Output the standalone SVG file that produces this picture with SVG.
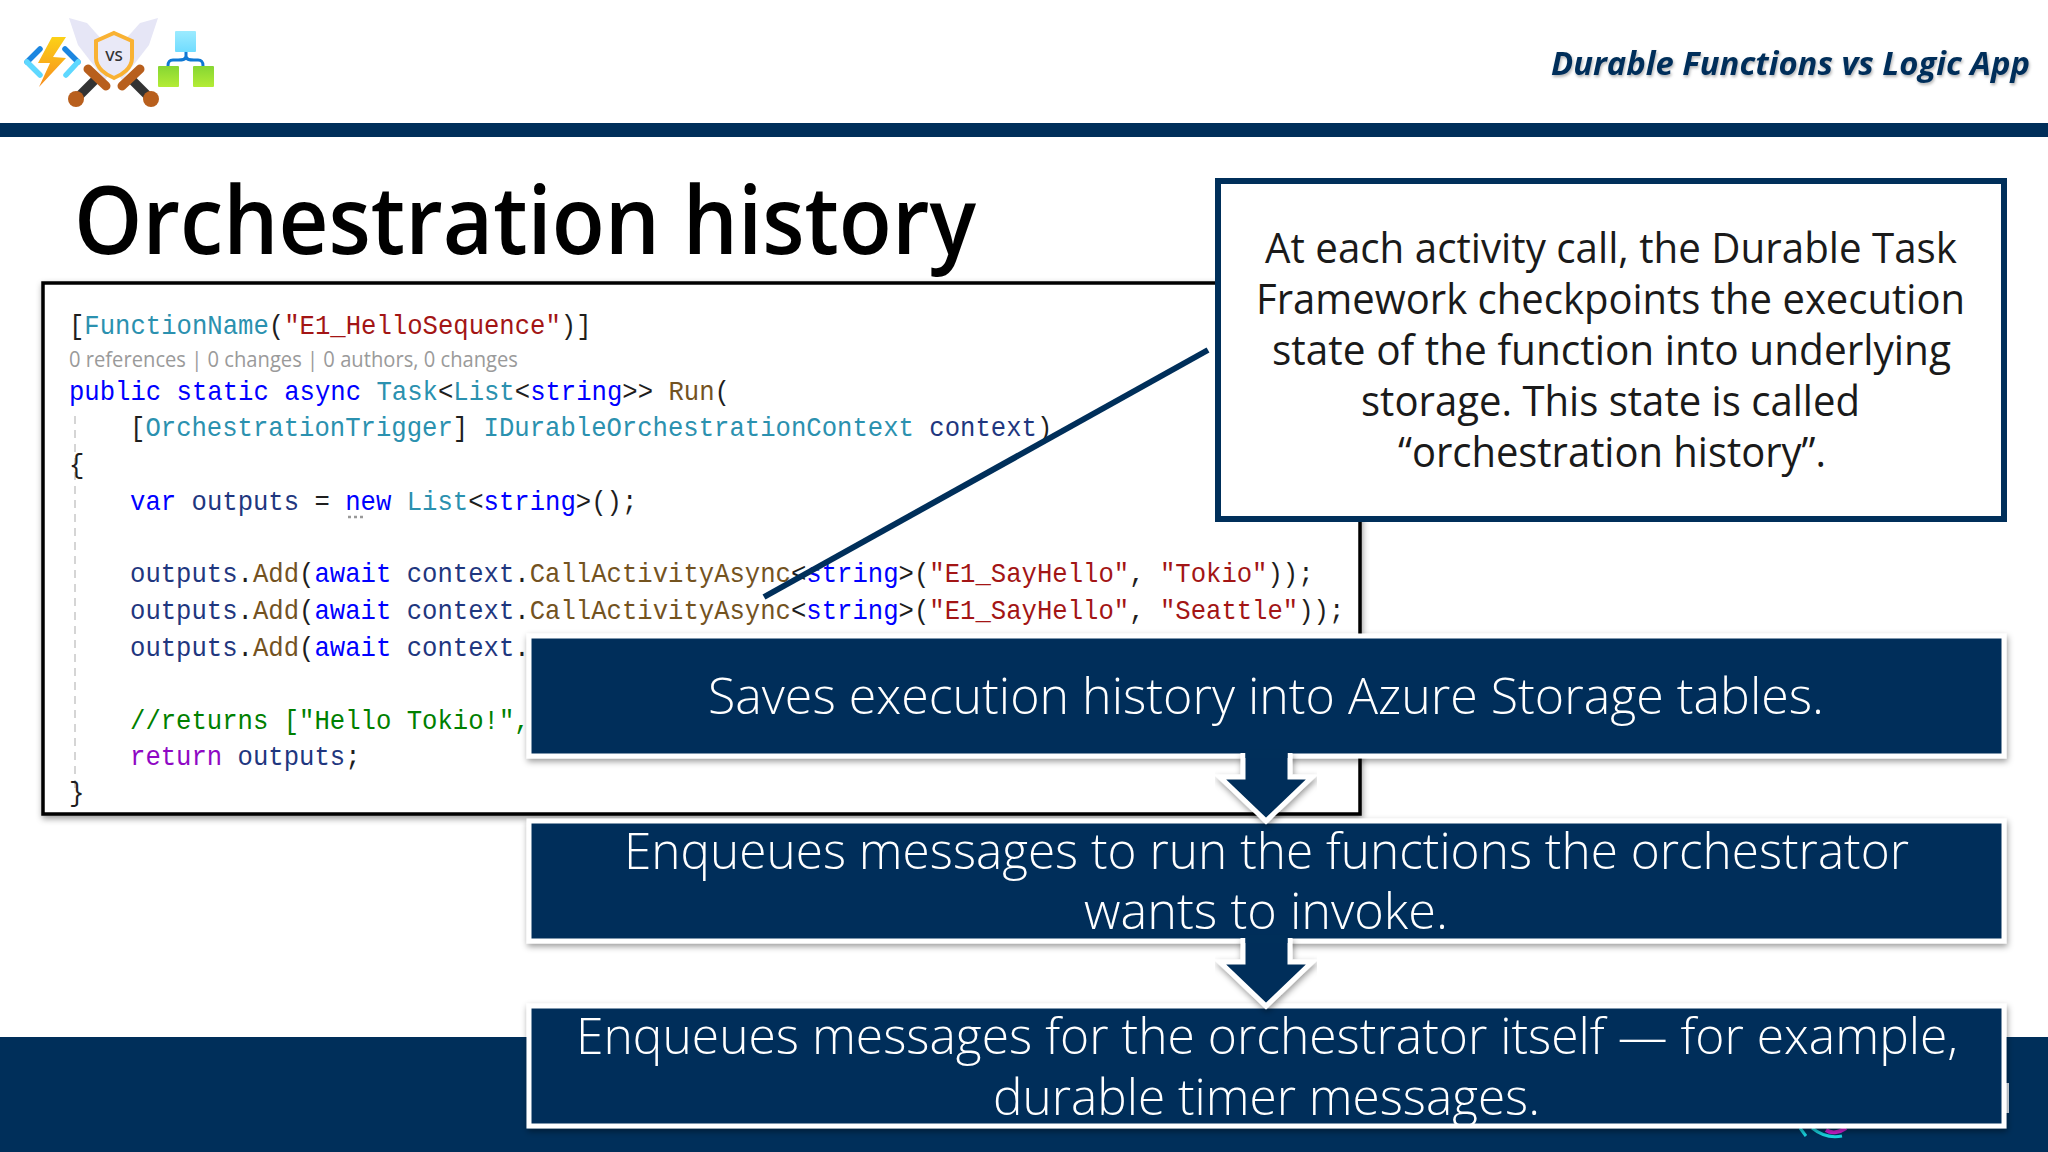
<svg xmlns="http://www.w3.org/2000/svg" width="2048" height="1152" viewBox="0 0 2048 1152">
<defs>
<style>
.c{font-family:"Liberation Mono",monospace;font-size:28px;fill:#1e1e1e}
.t{fill:#2b91af}.k{fill:#0000ff}.s{fill:#a31515}.m{fill:#74531f}.v{fill:#1f377f}.g{fill:#008000}.r{fill:#8f08c4}
.w{font-family:"Open Sans",sans-serif;font-size:50px;font-weight:300;fill:#fff;text-anchor:start}
.b{font-family:"Open Sans",sans-serif;font-size:42px;fill:#1a1a1a}
.box{fill:#002f5a;stroke:#fff;stroke-width:5;filter:url(#sh)}
.arr{fill:#002f5a;stroke:#fff;stroke-width:5;stroke-linejoin:miter}
</style>
<filter id="sh" x="-5%" y="-10%" width="110%" height="125%"><feDropShadow dx="1" dy="3" stdDeviation="3" flood-color="#000" flood-opacity=".4"/></filter>
<filter id="ts" x="-5%" y="-20%" width="110%" height="150%"><feDropShadow dx="1" dy="2" stdDeviation="1.5" flood-color="#000" flood-opacity=".3"/></filter>
<linearGradient id="bolt" x1="0" y1="0" x2="0" y2="1"><stop offset="0" stop-color="#fcd116"/><stop offset="1" stop-color="#f78d1e"/></linearGradient>
<linearGradient id="green" x1="0" y1="0" x2="0" y2="1"><stop offset="0" stop-color="#86d633"/><stop offset="1" stop-color="#b4ec36"/></linearGradient>
<linearGradient id="sky" x1="0" y1="0" x2="0" y2="1"><stop offset="0" stop-color="#9cebff"/><stop offset="1" stop-color="#70dcff"/></linearGradient>
</defs>
<rect width="2048" height="1152" fill="#fff"/>
<rect id="header-bar" x="0" y="123" width="2048" height="14" fill="#002f5a"/>
<rect id="footer-bar" x="0" y="1037" width="2048" height="115" fill="#002f5a"/>
<g id="logo-functions">
<path d="M40 49 27 62" fill="none" stroke="#1c86e0" stroke-width="5.500" stroke-linecap="round"/>
<path d="M27 62 40 75" fill="none" stroke="#5ed8ff" stroke-width="5.500" stroke-linecap="round"/>
<path d="M65 49 78 62" fill="none" stroke="#1c86e0" stroke-width="5.500" stroke-linecap="round"/>
<path d="M78 62 66 75" fill="none" stroke="#5ed8ff" stroke-width="5.500" stroke-linecap="round"/>
<path d="M66 37H52L38 63H50L39 87 66 58 53 57Z" fill="url(#bolt)"/>
</g>
<g id="logo-vs">
<path d="M69 18 87 23 120 60 105 80 78 45Z" fill="#e6e6f6"/>
<path d="M158 18 140 23 107 60 122 80 149 45Z" fill="#e6e6f6"/>
<path d="M114 33 132 41V58C132 68 122 75 114 78 106 75 96 68 96 58V41Z" fill="#e9e9f7" stroke="#f9b233" stroke-width="4"/>
<text x="114" y="61" font-family="'Open Sans',sans-serif" font-size="15" font-weight="600" text-anchor="middle" fill="#333">VS</text>
<path d="M96 79 79 96" stroke="#333" stroke-width="9"/>
<path d="M131 79 148 96" stroke="#333" stroke-width="9"/>
<path d="M88 69 106 86" stroke="#b85f1d" stroke-width="9" stroke-linecap="round"/>
<path d="M140 69 122 86" stroke="#b85f1d" stroke-width="9" stroke-linecap="round"/>
<circle cx="76" cy="99" r="8" fill="#b85f1d"/>
<circle cx="151" cy="99" r="8" fill="#b85f1d"/>
</g>
<g id="logo-logicapp">
<rect x="175" y="31" width="21" height="21" rx="1" fill="url(#sky)"/>
<path d="M186 52V56C186 60 182 60 178 60H173C169 60 168 62 168 66M186 56C186 60 190 60 194 60H198C202 60 203 62 203 66" fill="none" stroke="#0f78d4" stroke-width="3"/>
<rect x="158" y="66" width="21" height="21" rx="1" fill="url(#green)"/>
<rect x="193" y="66" width="21" height="21" rx="1" fill="url(#green)"/>
</g>
<text id="header-title" x="1551" y="75" font-family="'Open Sans',sans-serif" font-size="33" font-weight="700" font-style="italic" fill="#002f5a" filter="url(#ts)" textLength="479" lengthAdjust="spacingAndGlyphs">Durable Functions vs Logic App</text>
<text id="slide-title" x="74" y="254" font-family="'Open Sans',sans-serif" font-size="94" font-weight="600" fill="#000" textLength="902" lengthAdjust="spacingAndGlyphs">Orchestration history</text>
<g id="code-panel">
<rect x="43" y="283" width="1317" height="531" fill="#fff" stroke="#000" stroke-width="3.500" filter="url(#sh)"/>
<path d="M75 416V790" stroke="#c8c8c8" stroke-width="1.500" stroke-dasharray="8 6"/>
<text x="69" y="367" font-family="'Open Sans',sans-serif" font-size="21" fill="#9a9a9a" textLength="449" lengthAdjust="spacingAndGlyphs">0 references | 0 changes | 0 authors, 0 changes</text>
<path d="M348 517h16" stroke="#999" stroke-width="2.500" stroke-dasharray="3 3"/>
<g transform="scale(.915 1)">
<text class="c" x="75.400" y="334">[<tspan class="t">FunctionName</tspan>(<tspan class="s">"E1_HelloSequence"</tspan>)]</text>
<text class="c" x="75.400" y="400"><tspan class="k">public static async</tspan> <tspan class="t">Task</tspan>&lt;<tspan class="t">List</tspan>&lt;<tspan class="k">string</tspan>&gt;&gt; <tspan class="m">Run</tspan>(</text>
<text class="c" x="142.100" y="436">[<tspan class="t">OrchestrationTrigger</tspan>] <tspan class="t">IDurableOrchestrationContext</tspan> <tspan class="v">context</tspan>)</text>
<text class="c" x="75.400" y="473">{</text>
<text class="c" x="142.100" y="510"><tspan class="k">var</tspan> <tspan class="v">outputs</tspan> = <tspan class="k">new</tspan> <tspan class="t">List</tspan>&lt;<tspan class="k">string</tspan>&gt;();</text>
<text class="c" x="142.100" y="582"><tspan class="v">outputs</tspan>.<tspan class="m">Add</tspan>(<tspan class="k">await</tspan> <tspan class="v">context</tspan>.<tspan class="m">CallActivityAsync</tspan>&lt;<tspan class="k">string</tspan>&gt;(<tspan class="s">"E1_SayHello"</tspan>, <tspan class="s">"Tokio"</tspan>));</text>
<text class="c" x="142.100" y="619"><tspan class="v">outputs</tspan>.<tspan class="m">Add</tspan>(<tspan class="k">await</tspan> <tspan class="v">context</tspan>.<tspan class="m">CallActivityAsync</tspan>&lt;<tspan class="k">string</tspan>&gt;(<tspan class="s">"E1_SayHello"</tspan>, <tspan class="s">"Seattle"</tspan>));</text>
<text class="c" x="142.100" y="656"><tspan class="v">outputs</tspan>.<tspan class="m">Add</tspan>(<tspan class="k">await</tspan> <tspan class="v">context</tspan>.</text>
<text class="c g" x="142.100" y="729">//returns ["Hello Tokio!",</text>
<text class="c" x="142.100" y="765"><tspan class="r">return</tspan> <tspan class="v">outputs</tspan>;</text>
<text class="c" x="75.400" y="801">}</text>
</g>
</g>
<g id="connectors">
<path id="callout-line" d="M1208 350 764 597" stroke="#002f5a" stroke-width="6" fill="none"/>
<path id="footer-arc" d="M1800 1128 1806 1136M1812 1128C1822 1136 1832 1138 1842 1136" stroke="#19d5e0" stroke-width="3" fill="none"/>
<path d="M1826 1130C1832 1134 1840 1132 1846 1128" stroke="#d01fd0" stroke-width="4" fill="none"/>
<rect x="2006" y="1083" width="3" height="30" fill="#dfe6ee"/>
</g>
<g id="callout">
<rect x="1218" y="181" width="786" height="338" fill="#fff" stroke="#002f5a" stroke-width="6"/>
<text class="b" x="1265" y="263" textLength="692" lengthAdjust="spacingAndGlyphs">At each activity call, the Durable Task</text>
<text class="b" x="1256" y="314" textLength="709" lengthAdjust="spacingAndGlyphs">Framework checkpoints the execution</text>
<text class="b" x="1272" y="365" textLength="679" lengthAdjust="spacingAndGlyphs">state of the function into underlying</text>
<text class="b" x="1361" y="416" textLength="499" lengthAdjust="spacingAndGlyphs">storage. This state is called</text>
<text class="b" x="1398" y="467" textLength="428" lengthAdjust="spacingAndGlyphs">“orchestration history”.</text>
</g>
<g id="step-3">
<rect class="box" x="529" y="1006" width="1475" height="120"/>
<text class="w" x="576" y="1054" textLength="1382" lengthAdjust="spacingAndGlyphs">Enqueues messages for the orchestrator itself — for example,</text>
<text class="w" x="993" y="1115" textLength="547" lengthAdjust="spacingAndGlyphs">durable timer messages.</text>
</g>
<g id="step-2">
<rect class="box" x="529" y="821" width="1475" height="120"/>
<text class="w" x="624" y="869" textLength="1285" lengthAdjust="spacingAndGlyphs">Enqueues messages to run the functions the orchestrator</text>
<text class="w" x="1084" y="929" textLength="364" lengthAdjust="spacingAndGlyphs">wants to invoke.</text>
</g>
<g id="arrow-2">
<path class="arr" d="M1243 938V962H1220L1266 1006 1312 962H1290V938" filter="url(#sh)"/>
<rect x="1245.500" y="935" width="42" height="8" fill="#002f5a"/>
</g>
<g id="step-1">
<rect class="box" x="529" y="636" width="1475" height="120"/>
<text class="w" x="708" y="714" textLength="1116" lengthAdjust="spacingAndGlyphs">Saves execution history into Azure Storage tables.</text>
</g>
<g id="arrow-1">
<path class="arr" d="M1243 753V777H1220L1266 821 1312 777H1290V753" filter="url(#sh)"/>
<rect x="1245.500" y="750" width="42" height="8" fill="#002f5a"/>
</g>
</svg>
